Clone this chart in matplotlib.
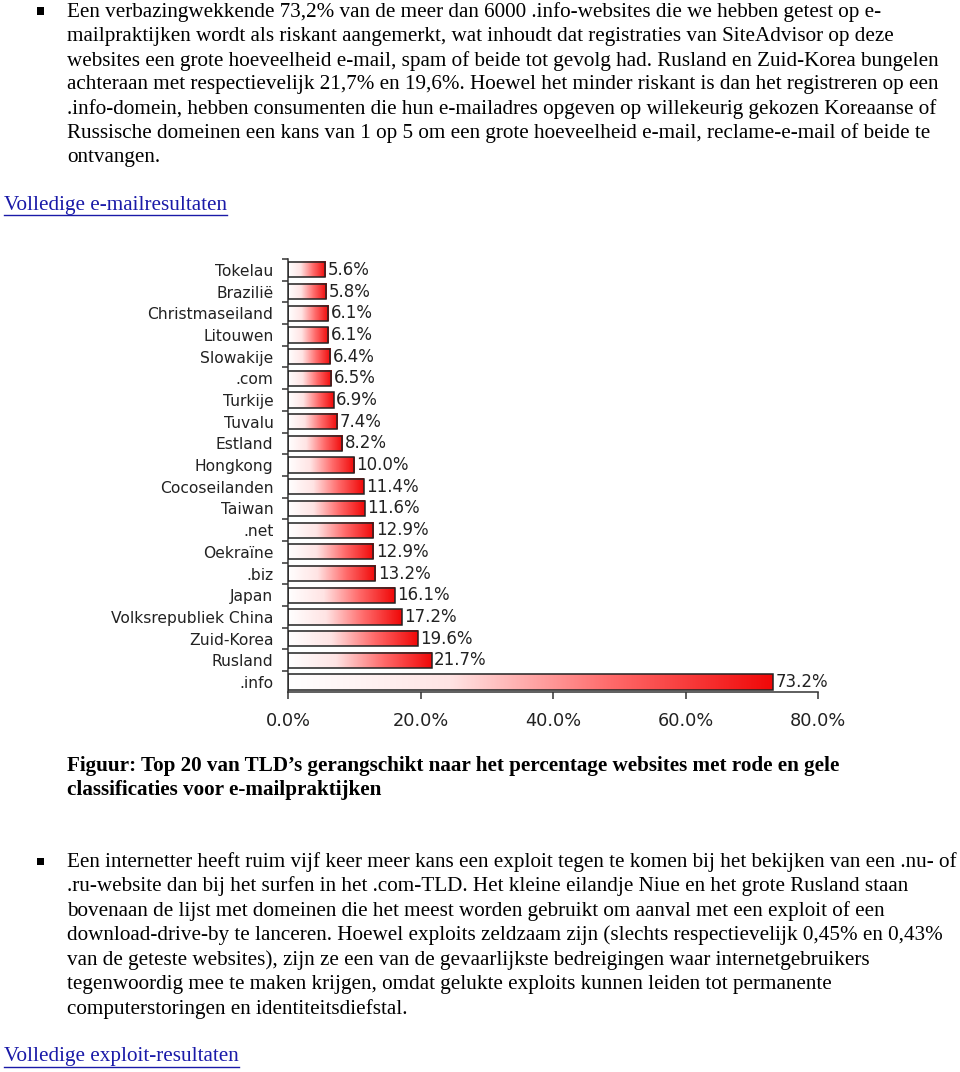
import numpy as np
import matplotlib
matplotlib.use("Agg")
import matplotlib.pyplot as plt
from matplotlib.colors import LinearSegmentedColormap
from matplotlib.patches import Rectangle
from matplotlib.lines import Line2D

categories = ["Tokelau", "Brazilië", "Christmaseiland", "Litouwen", "Slowakije", ".com",
              "Turkije", "Tuvalu", "Estland", "Hongkong", "Cocoseilanden", "Taiwan", ".net",
              "Oekraïne", ".biz", "Japan", "Volksrepubliek China", "Zuid-Korea", "Rusland", ".info"]
values = [5.6, 5.8, 6.1, 6.1, 6.4, 6.5, 6.9, 7.4, 8.2, 10.0, 11.4, 11.6, 12.9,
          12.9, 13.2, 16.1, 17.2, 19.6, 21.7, 73.2]
xticks = [0, 20, 40, 60, 80]
xtick_labels = ["0.0%", "20.0%", "40.0%", "60.0%", "80.0%"]

para1 = [
    "Een verbazingwekkende 73,2% van de meer dan 6000 .info-websites die we hebben getest op e-",
    "mailpraktijken wordt als riskant aangemerkt, wat inhoudt dat registraties van SiteAdvisor op deze",
    "websites een grote hoeveelheid e-mail, spam of beide tot gevolg had. Rusland en Zuid-Korea bungelen",
    "achteraan met respectievelijk 21,7% en 19,6%. Hoewel het minder riskant is dan het registreren op een",
    ".info-domein, hebben consumenten die hun e-mailadres opgeven op willekeurig gekozen Koreaanse of",
    "Russische domeinen een kans van 1 op 5 om een grote hoeveelheid e-mail, reclame-e-mail of beide te",
    "ontvangen.",
]
link1 = "Volledige e-mailresultaten"
caption = [
    "Figuur: Top 20 van TLD\u2019s gerangschikt naar het percentage websites met rode en gele",
    "classificaties voor e-mailpraktijken",
]
para2 = [
    "Een internetter heeft ruim vijf keer meer kans een exploit tegen te komen bij het bekijken van een .nu- of",
    ".ru-website dan bij het surfen in het .com-TLD. Het kleine eilandje Niue en het grote Rusland staan",
    "bovenaan de lijst met domeinen die het meest worden gebruikt om aanval met een exploit of een",
    "download-drive-by te lanceren. Hoewel exploits zeldzaam zijn (slechts respectievelijk 0,45% en 0,43%",
    "van de geteste websites), zijn ze een van de gevaarlijkste bedreigingen waar internetgebruikers",
    "tegenwoordig mee te maken krijgen, omdat gelukte exploits kunnen leiden tot permanente",
    "computerstoringen en identiteitsdiefstal.",
]
link2 = "Volledige exploit-resultaten"

W, H = 960, 1072
fig = plt.figure(figsize=(W / 100, H / 100), dpi=100)
fig.patch.set_facecolor("white")

def fx(px):
    return px / W

def fy(py):
    return 1 - py / H

serif = "Liberation Serif"
fs_body = 15.2
link_color = "#1a1aa8"

def body_lines(lines, x, y0, step, **kw):
    for i, line in enumerate(lines):
        fig.text(fx(x), fy(y0 + i * step), line, family=serif, fontsize=fs_body,
                 va="center", ha="left", color="black", **kw)

def bullet(x, y):
    s = 7
    fig.patches.append(Rectangle((fx(x - s / 2), fy(y + s / 2)), s / W, s / H,
                                 transform=fig.transFigure, facecolor="black",
                                 edgecolor="none"))

link_texts = []
def link(text, x, y):
    t = fig.text(fx(x), fy(y), text, family=serif, fontsize=fs_body, va="center",
                 ha="left", color=link_color)
    link_texts.append((t, y))

bullet(40, 11)
body_lines(para1, 67, 12, 24.3)
link(link1, 4, 205)

for i, line in enumerate(caption):
    fig.text(fx(67), fy(766 + i * 24.5), line, family=serif, fontsize=fs_body,
             fontweight="bold", va="center", ha="left", color="black")

bullet(40, 861)
body_lines(para2, 67, 862, 24.5)
link(link2, 4, 1057)

# Chart
ax = fig.add_axes([fx(288), fy(692), (818 - 288) / W, (692 - 259) / H])
n = len(categories)
cmap = LinearSegmentedColormap.from_list("wr", ["#ffffff", "#ffe4e4", "#ff6a6a", "#f00808"])
grad = np.linspace(0, 1, 256).reshape(1, -1)
h = 0.7
for i, v in enumerate(values):
    ax.imshow(grad, extent=(0, v, i + h / 2, i - h / 2), aspect="auto", cmap=cmap,
              interpolation="bilinear", zorder=2)
    ax.add_patch(Rectangle((0, i - h / 2), v, h, facecolor="none", edgecolor="#222222",
                           linewidth=1.1, zorder=3))
    ax.text(v + 0.35, i, f"{v:.1f}%", va="center", ha="left", fontsize=12,
            family="DejaVu Sans", color="#222222")
ax.set_xlim(0, 80)
ax.set_ylim(n - 0.54, -0.48)

for s in ["top", "right"]:
    ax.spines[s].set_visible(False)
for s in ["left", "bottom"]:
    ax.spines[s].set_color("#333333")
    ax.spines[s].set_linewidth(1.1)

ax.set_yticks(range(n))
ax.set_yticklabels(categories, fontsize=11.2, family="DejaVu Sans", color="#222222")
ax.tick_params(axis="y", which="major", length=0, pad=10.5)
ax.set_yticks(np.arange(-0.5, n - 0.5, 1), minor=True)
ax.tick_params(axis="y", which="minor", length=4.5, width=1.1, color="#333333")
ax.set_xticks(xticks)
ax.set_xticklabels(xtick_labels, fontsize=12.8, family="DejaVu Sans", color="#222222")
ax.tick_params(axis="x", length=5, width=1.1, color="#333333", pad=9.5)

# underline links
fig.canvas.draw()
r = fig.canvas.get_renderer()
for t, y in link_texts:
    bb = t.get_window_extent(renderer=r)
    yy = fy(y + 10)
    fig.lines.append(Line2D([bb.x0 / W, bb.x1 / W], [yy, yy], transform=fig.transFigure,
                            color=link_color, linewidth=1.0))

fig.savefig("out.png", dpi=100, facecolor="white")
